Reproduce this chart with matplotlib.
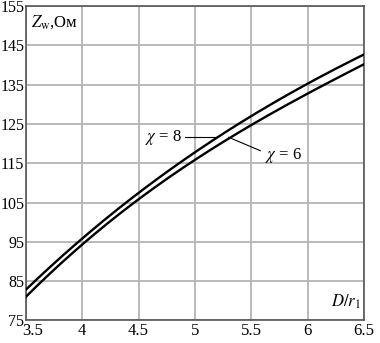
import matplotlib
matplotlib.use('Agg')
import matplotlib.pyplot as plt
import matplotlib.transforms as mtransforms
import numpy as np

# ratio D/r1 and impedance values
ratio = [3.5, 4.0, 4.5, 5.0, 5.5, 6.0, 6.5]
z_chi8 = [82.8, 95.8, 107.6, 117.6, 127.1, 135.3, 142.7]
z_chi6 = [81.0, 94.2, 106.1, 115.6, 124.8, 132.8, 140.2]

x_ticks = [3.5, 4, 4.5, 5, 5.5, 6, 6.5]
x_labels = ['3.5', '4', '4.5', '5', '5.5', '6', '6.5']
y_ticks = [75, 85, 95, 105, 115, 125, 135, 145, 155]

plt.rcParams['font.family'] = ['Liberation Serif', 'DejaVu Serif']
plt.rcParams['mathtext.fontset'] = 'stix'

fig = plt.figure(figsize=(3.8, 3.43), dpi=100)
ax = fig.add_axes([0.068, 0.066, 0.89, 0.916])

# smooth curves through the read points
xs = np.linspace(ratio[0], ratio[-1], 200)
c8 = np.polyfit(ratio, z_chi8, 3)
c6 = np.polyfit(ratio, z_chi6, 3)
ax.plot(xs, np.polyval(c8, xs), color='black', lw=1.7, zorder=3)
ax.plot(xs, np.polyval(c6, xs), color='black', lw=1.7, zorder=3)

ax.set_xlim(3.5, 6.5)
ax.set_ylim(75, 155)
ax.set_xticks(x_ticks)
ax.set_xticklabels(x_labels)
ax.set_yticks(y_ticks)
ax.grid(True, color='#b4b4b4', lw=1.3)
ax.tick_params(length=0)
ax.tick_params(axis='x', pad=2, labelsize=12)
ax.tick_params(axis='y', pad=1, labelsize=11.5)
for s in ax.spines.values():
    s.set_color('#555555')
    s.set_linewidth(1.2)

# first x label sits a little right of the corner, as in the original
first = ax.get_xticklabels()[0]
first.set_transform(first.get_transform() +
                    mtransforms.ScaledTranslation(5 / 72, 0, fig.dpi_scale_trans))

# curve labels with leader lines
ax.text(4.88, 121.6, r'$\chi$ = 8', ha='right', va='center', fontsize=12)
ax.plot([4.91, 5.2], [121.8, 121.8], color='black', lw=0.8)
ax.text(5.62, 117.0, r'$\chi$ = 6', ha='left', va='center', fontsize=12)
ax.plot([5.3, 5.58], [121.6, 118.2], color='black', lw=0.8)

# axis names inside the plot
ax.text(3.55, 153.2, r'$Z_{\mathrm{w}}$,Ом', ha='left', va='top', fontsize=12,
        bbox=dict(facecolor='white', edgecolor='none', pad=1))
ax.text(6.47, 77.5, r'$D/r_1$', ha='right', va='bottom', fontsize=12,
        bbox=dict(facecolor='white', edgecolor='none', pad=1))

fig.savefig('out.png', dpi=100)
